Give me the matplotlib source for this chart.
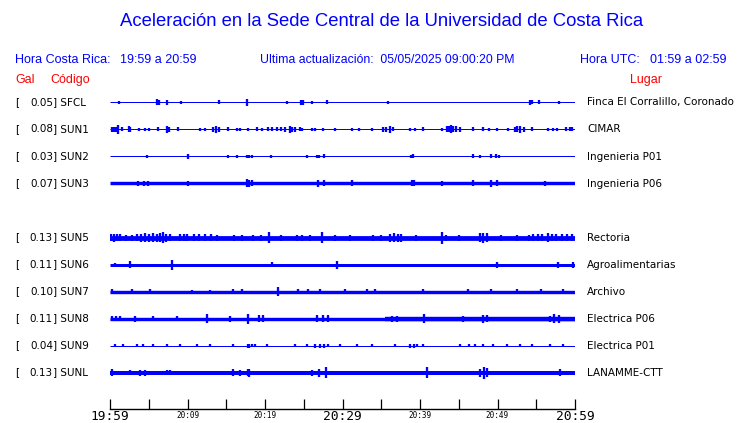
import matplotlib
matplotlib.use("Agg")
import matplotlib.pyplot as plt

# ---------------- data ----------------
codes = ['SFCL', 'SUN1', 'SUN2', 'SUN3', 'SUN5', 'SUN6', 'SUN7', 'SUN8', 'SUN9', 'SUNL']
gal = [0.05, 0.08, 0.03, 0.07, 0.13, 0.11, 0.10, 0.11, 0.04, 0.13]
places = ['Finca El Corralillo, Coronado', 'CIMAR', 'Ingenieria P01', 'Ingenieria P06',
          'Rectoria', 'Agroalimentarias', 'Archivo', 'Electrica P06', 'Electrica P01',
          'LANAMME-CTT']
slots = [0, 1, 2, 3, 5, 6, 7, 8, 9, 10]
# background (noise) half amplitude of each trace
base_half = [0.5, 0.5, 0.5, 1.7, 2.4, 1.5, 1.7, 1.7, 0.5, 2.0]

# bursts: (minute after 19:59, half amplitude)
sfcl_bursts = [(1.2, 1.5), (6.1, 3), (6.3, 2.5), (7.4, 2.5), (9.2, 1.2), (14.1, 2),
               (17.7, 3.5), (22.8, 1.2), (24.7, 2.5), (24.9, 2.2), (26.1, 1.2), (28.0, 2),
               (35.9, 1.2), (54.2, 2.5), (54.5, 2), (55.4, 2), (57.9, 1.2)]
sun1_bursts = [(0.2, 2.5), (0.5, 2.5), (0.8, 2.5), (1.0, 4.5), (1.6, 2), (2.4, 3), (2.6, 2.5),
               (3.8, 1.5), (4.5, 1.5), (5.0, 1.2), (6.2, 2), (7.4, 3.5), (7.6, 2.5), (8.8, 2),
               (11.6, 1.2), (12.3, 1.2), (13.3, 2.5), (13.7, 3.5), (14.1, 2.5), (15.2, 2),
               (16.4, 1.2), (16.8, 1.2), (17.8, 1.5), (19.0, 2), (19.6, 1.2), (20.4, 2),
               (20.9, 2), (21.6, 2), (22.0, 2), (22.6, 2.5), (23.2, 3.5), (23.5, 2.5),
               (23.9, 2.5), (24.5, 2), (24.8, 1.5), (26.1, 1.2), (26.5, 1.2), (27.5, 1.2),
               (29.0, 1.2), (31.2, 1.2), (32.1, 1.2), (33.8, 1.2), (35.2, 2.5), (35.6, 2.5),
               (36.1, 3.5), (36.5, 2), (38.7, 1.5), (39.4, 1.5), (40.4, 2), (42.8, 1.2),
               (43.5, 3), (43.8, 3), (44.0, 4), (44.3, 3), (44.6, 3), (45.2, 2.5), (46.8, 2),
               (48.1, 2), (48.9, 1.2), (49.9, 1.2), (51.3, 1.2), (52.2, 2.5), (52.5, 3),
               (52.9, 3.5), (53.4, 2.5), (54.5, 2), (56.5, 1.2), (57.2, 1.2), (57.7, 1.2),
               (58.9, 2), (59.3, 2), (59.6, 2)]
sun2_bursts = [(4.8, 1.2), (10.1, 2.2), (15.2, 1.2), (16.4, 1.2), (17.7, 1.8), (17.9, 1.8),
               (18.3, 1.8), (20.8, 1.2), (25.4, 1.2), (26.7, 1.8), (27.0, 1.8), (27.6, 2),
               (38.8, 1.2), (39.1, 2), (46.8, 2), (47.7, 1.5), (49.2, 2), (49.8, 2), (50.2, 1.2)]
sun3_bursts = [(3.6, 2.4), (4.4, 2.4), (4.9, 2.6), (10.1, 2.6), (17.7, 4), (17.9, 3.5),
               (18.3, 3), (26.8, 3.8), (27.6, 3), (31.2, 3), (39.0, 3), (39.2, 3), (42.8, 2.5),
               (46.8, 3), (49.2, 3.8), (49.9, 3), (56.1, 2.5)]
sun5_bursts = [(0.1, 3.5), (0.5, 4), (0.9, 3.5), (1.3, 3.5), (2.0, 3), (2.8, 3), (3.5, 3.5),
               (4.0, 4), (4.5, 4.5), (5.0, 4), (5.5, 4.5), (6.0, 4), (6.5, 4.5), (6.8, 5.5),
               (7.2, 4), (7.8, 3.5), (9.0, 3.5), (9.5, 3.5), (9.9, 3.5), (10.8, 3.5),
               (11.5, 3.5), (12.3, 3.5), (13.0, 3.5), (13.8, 3), (16.0, 3), (17.0, 3),
               (18.5, 3), (19.5, 3), (20.5, 5.5), (22.0, 3), (24.1, 3), (24.8, 3),
               (25.8, 3), (27.3, 5.5), (29.0, 3), (31.0, 3), (33.9, 3), (35.0, 3), (36.1, 4),
               (36.6, 4.5), (37.1, 4), (37.6, 4), (39.5, 3), (42.8, 6), (43.4, 3),
               (45.0, 3), (47.7, 4.5), (48.1, 5), (48.6, 4.5), (50.5, 3), (52.5, 3),
               (54.0, 3), (54.6, 3.5), (55.2, 3.5), (55.8, 3.5), (56.5, 4.5), (57.0, 3.5),
               (57.6, 3.5), (58.3, 3.5), (59.0, 3.5), (59.6, 3.5)]
sun6_bursts = [(0.6, 1.8), (2.6, 3.5), (8.0, 5), (20.9, 2.2), (29.3, 4), (49.9, 3),
               (57.8, 3), (59.7, 3)]
sun7_bursts = [(0.3, 2.2), (2.8, 2.5), (5.2, 2.5), (10.6, 2), (12.9, 2), (15.9, 2.5),
               (17.0, 2.5), (21.7, 4.5), (24.3, 2.2), (25.5, 2.5), (27.1, 2.5), (30.3, 2.2),
               (33.2, 2.2), (34.2, 2.2), (40.4, 2.2), (46.2, 2.2), (49.2, 2.2), (52.5, 2.2),
               (55.6, 2.2), (58.5, 2.2)]
sun8_bursts = [(0.3, 2.5), (0.8, 2.5), (1.3, 2.5), (3.2, 3), (5.5, 2.5), (8.6, 2.5),
               (12.5, 4.5), (15.5, 3), (17.8, 5), (19.2, 3.5), (19.7, 3.5), (26.7, 3.5),
               (27.5, 3.5), (28.1, 3.5), (36.4, 3), (37.0, 3), (40.5, 4.5), (45.6, 3),
               (48.1, 4), (48.6, 3.5), (56.8, 3), (57.3, 4.5), (57.9, 4)]
sun8_thick = [(35.5, 60.0, 2.2)]
sun9_bursts = [(0.65, 1.5), (1.7, 1.5), (3.5, 1.5), (4.3, 1.5), (5.5, 1.5), (7.4, 1.5),
               (9.0, 1.5), (11.2, 1.5), (12.9, 1.5), (15.9, 1.5), (17.8, 2), (17.9, 2),
               (18.3, 1.5), (18.7, 1.5), (20.3, 1.2), (23.9, 1.2), (25.4, 1.5), (26.5, 2),
               (27.1, 2), (27.6, 2), (28.1, 1.5), (29.7, 1.2), (31.9, 1.2), (33.8, 1.2),
               (36.8, 1.5), (38.7, 2), (39.2, 2), (39.6, 1.5), (40.4, 1.5), (45.2, 1.5),
               (46.3, 1.5), (47.1, 1.5), (48.1, 1.5), (49.4, 1.5), (51.2, 1.5), (52.9, 1.5),
               (54.5, 1.5), (56.8, 1.5), (58.5, 1.2)]
sunl_bursts = [(0.3, 3.5), (2.6, 2.5), (3.9, 3), (4.5, 3), (7.4, 2.5), (7.7, 2.5),
               (15.9, 3.5), (16.8, 3), (17.8, 3.5), (17.9, 4), (26.1, 3), (27.0, 4),
               (27.9, 5.5), (40.9, 5.5), (47.7, 4), (48.3, 6), (48.7, 4.5), (58.1, 3.5)]

all_bursts = [sfcl_bursts, sun1_bursts, sun2_bursts, sun3_bursts, sun5_bursts,
              sun6_bursts, sun7_bursts, sun8_bursts, sun9_bursts, sunl_bursts]
thick_parts = {'SUN8': sun8_thick}

tick_minutes = list(range(0, 61, 5))
tick_labels = ['19:59', '', '20:09', '', '20:19', '', '20:29', '', '20:39', '', '20:49', '', '20:59']
big_labels = ['19:59', '20:29', '20:59']

# ---------------- drawing ----------------
W, H = 740, 423
fig = plt.figure(figsize=(W / 100, H / 100), dpi=100)
fig.patch.set_facecolor('white')

def fx(px):
    return px / W

def fy(py):
    return 1 - py / H

ax_top, ax_bot = 90, 409
ax = fig.add_axes([fx(110), fy(ax_bot), 465 / W, (ax_bot - ax_top) / H])
ax.set_xlim(0, 60)
ax.set_ylim(ax_bot, ax_top)   # vertical units = pixels
PT = 0.72  # points per pixel
BLUE = '#0000ff'

row0, gap = 102.5, 27
for code, slot, bh, bursts in zip(codes, slots, base_half, all_bursts):
    yc = row0 + gap * slot
    ax.plot([0, 60], [yc, yc], color=BLUE, lw=2 * bh * PT, solid_capstyle='butt')
    for (t0, t1, h) in thick_parts.get(code, []):
        ax.plot([t0, t1], [yc, yc], color=BLUE, lw=2 * h * PT, solid_capstyle='butt')
    ts = [b[0] for b in bursts]
    lo = [yc - b[1] for b in bursts]
    hi = [yc + b[1] for b in bursts]
    ax.vlines(ts, lo, hi, color=BLUE, lw=2.3 * PT)

for s in ['top', 'left', 'right']:
    ax.spines[s].set_visible(False)
ax.spines['bottom'].set_color('black')
ax.spines['bottom'].set_linewidth(1.0)
ax.set_yticks([])
ax.set_xticks(tick_minutes)
ax.set_xticklabels([])
ax.tick_params(axis='x', direction='in', length=7.5, width=0.9, color='black')

# time labels under the axis
for t, lab in zip(tick_minutes, tick_labels):
    if not lab:
        continue
    if lab in big_labels:
        fig.text(fx(110 + 465 * t / 60), fy(419.5), lab, ha='center', va='baseline',
                 fontsize=9.3, family='DejaVu Sans Mono', color='black')
    else:
        fig.text(fx(110 + 465 * t / 60), fy(417.5), lab, ha='center', va='baseline',
                 fontsize=5.5, family='DejaVu Sans Mono', color='black')

# ---------------- texts ----------------
sans = 'Liberation Sans'
fig.text(fx(382), fy(22), 'Aceleración en la Sede Central de la Universidad de Costa Rica',
         ha='center', va='center', color=BLUE, fontsize=13.3, family=sans)
fig.text(fx(15), fy(60), 'Hora Costa Rica:', ha='left', va='center', color=BLUE, fontsize=9, family=sans)
fig.text(fx(120), fy(60), '19:59 a 20:59', ha='left', va='center', color=BLUE, fontsize=9, family=sans)
fig.text(fx(260), fy(60), 'Ultima actualización:  05/05/2025 09:00:20 PM', ha='left', va='center',
         color=BLUE, fontsize=8.8, family=sans)
fig.text(fx(580), fy(60), 'Hora UTC:', ha='left', va='center', color=BLUE, fontsize=9, family=sans)
fig.text(fx(650), fy(60), '01:59 a 02:59', ha='left', va='center', color=BLUE, fontsize=9, family=sans)
fig.text(fx(15), fy(80), 'Gal', ha='left', va='center', color='red', fontsize=9, family=sans)
fig.text(fx(50), fy(80), 'Código', ha='left', va='center', color='red', fontsize=9, family=sans)
fig.text(fx(630), fy(80), 'Lugar', ha='left', va='center', color='red', fontsize=9, family=sans)

for code, slot, g, place in zip(codes, slots, gal, places):
    yc = row0 + gap * slot
    fig.text(fx(15), fy(yc), '[', ha='left', va='center', fontsize=7.5, color='black')
    fig.text(fx(53), fy(yc), f'{g:.2f}', ha='right', va='center', fontsize=7.5, color='black')
    fig.text(fx(53), fy(yc), f'] {code}', ha='left', va='center', fontsize=7.5, color='black')
    fig.text(fx(587), fy(yc), place, ha='left', va='center', fontsize=7.5, color='black')

fig.savefig('out.png', dpi=100, facecolor='white')
